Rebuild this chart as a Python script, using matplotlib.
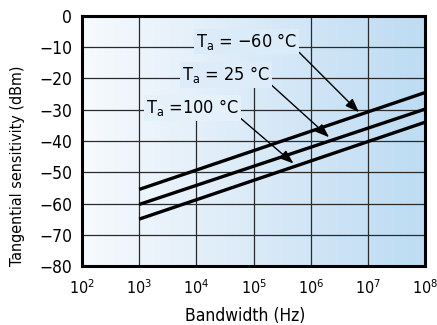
import numpy as np
import matplotlib
matplotlib.use("Agg")
from matplotlib import pyplot as plt
from matplotlib.colors import LinearSegmentedColormap

plt.rcParams['font.family'] = ['DejaVu Sans']
plt.rcParams['font.stretch'] = 'condensed'
plt.rcParams['mathtext.fontset'] = 'custom'
plt.rcParams['mathtext.rm'] = 'DejaVu Sans:stretch=condensed'
plt.rcParams['mathtext.it'] = 'DejaVu Sans:stretch=condensed'
plt.rcParams['mathtext.default'] = 'regular'

# data
bandwidth = [1e3, 1e8]
sens_m60 = [-55.5, -24.5]
sens_25 = [-60.3, -29.8]
sens_100 = [-65.0, -34.0]

curves = [
    (sens_m60, r"T$_a$ = $-$60 °C", (9.8e3, -10.0), (7.0e6, -30.8)),
    (sens_25, r"T$_a$ = 25 °C", (5.6e3, -20.6), (2.1e6, -38.8)),
    (sens_100, r"T$_a$ =100 °C", (1.3e3, -31.2), (5.0e5, -47.2)),
]

x_ticks = [1e2, 1e3, 1e4, 1e5, 1e6, 1e7, 1e8]
y_ticks = [0, -10, -20, -30, -40, -50, -60, -70, -80]

# vertical grid lines stop below the labels (axes fraction of their top)
vgrid_top = {1e4: 0.592, 1e5: 0.716}

left_col = (0.97, 0.98, 0.995)
right_col = (0.74, 0.86, 0.95)

fig = plt.figure(figsize=(4.37, 3.25), dpi=100)
ax = fig.add_axes([0.1876, 0.1815, 0.785, 0.7693])

cmap = LinearSegmentedColormap.from_list("bg", [left_col, right_col])
grad = np.linspace(0, 1, 256).reshape(1, -1)
ax.imshow(grad, cmap=cmap, aspect='auto', extent=[0, 1, 0, 1],
          transform=ax.transAxes, zorder=0)

ax.set_xscale('log')
ax.set_xlim(1e2, 1e8)
ax.set_ylim(-80, 0)

for xv in x_ticks:
    ax.axvline(xv, ymax=vgrid_top.get(xv, 1.0), color='#2a2a2a', lw=0.9, zorder=1)
for yv in y_ticks:
    ax.axhline(yv, color='#2a2a2a', lw=0.9, zorder=1)

for vals, label, txt_pos, tip in curves:
    ax.plot(bandwidth, vals, color='black', lw=2.4, zorder=3, solid_capstyle='butt')
    # label box filled with the gradient colour at its centre
    frac = (np.log10(txt_pos[0]) - 2 + 0.9) / 6
    fc = cmap(frac)
    ax.annotate(label, xy=tip, xytext=txt_pos, fontsize=13, ha='left', va='baseline',
                zorder=4,
                bbox=dict(boxstyle='square,pad=0.12', fc=fc, ec='none'),
                arrowprops=dict(arrowstyle='-|>,head_length=0.6,head_width=0.22',
                                color='black', lw=1.0,
                                mutation_scale=14, shrinkA=0, shrinkB=0,
                                relpos=(1.0, 0.1)))

ax.set_xticks(x_ticks)
ax.set_xticklabels([r"10$^{%d}$" % int(np.log10(v)) for v in x_ticks])
ax.set_yticks(y_ticks)
ax.set_yticklabels([str(v).replace('-', '\u2212') for v in y_ticks])
ax.minorticks_off()
ax.tick_params(axis='y', length=0, labelsize=12.5, pad=7)
ax.tick_params(axis='x', length=0, labelsize=11.5, pad=9)

for s in ax.spines.values():
    s.set_linewidth(2.2)
    s.set_color('black')
    s.set_zorder(5)

ax.set_xlabel("Bandwidth (Hz)", fontsize=12.5)
ax.set_ylabel("Tangential sensitivity (dBm)", fontsize=11.5)
ax.xaxis.set_label_coords(0.475, -0.165)
ax.yaxis.set_label_coords(-0.165, 0.4)

fig.savefig("out.png", dpi=100)
